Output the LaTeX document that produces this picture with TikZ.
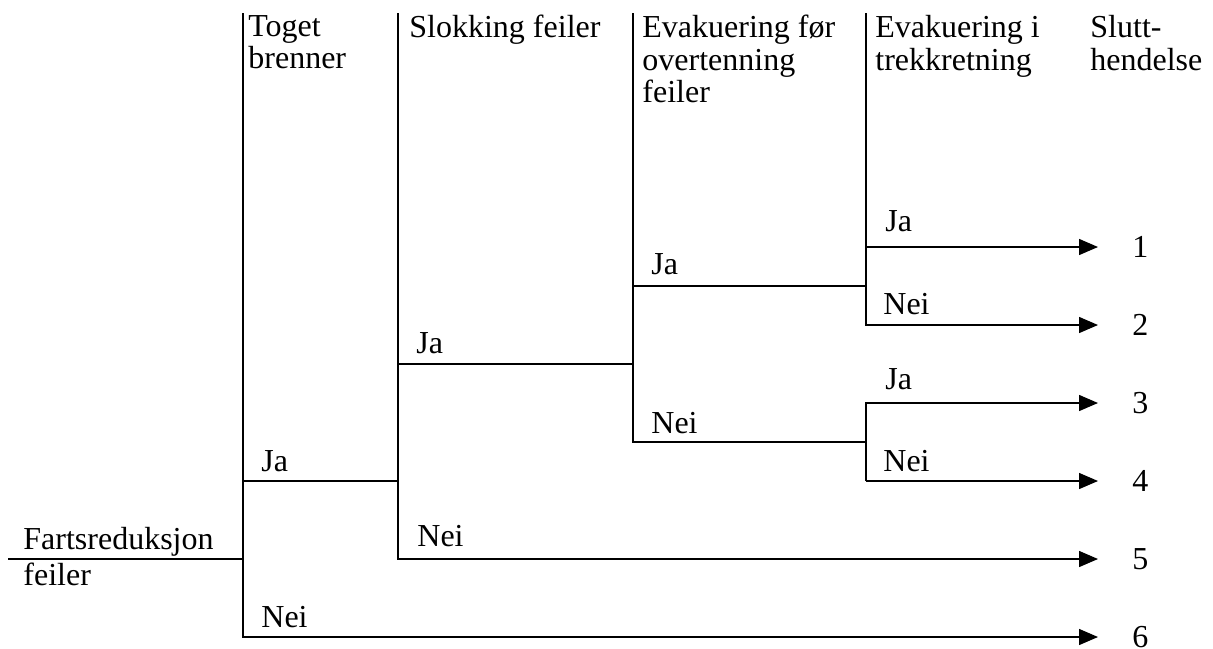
\documentclass[tikz,border=0pt]{standalone}
\usepackage{fontspec}
\setmainfont{Liberation Serif}
\usetikzlibrary{arrows.meta,positioning}
\newcommand{\treefont}{\fontsize{16}{16.25}\selectfont}

\begin{document}
\begin{tikzpicture}[x=0.5pt,y=-0.5pt,
    branch/.style={draw=black,line width=0.7pt},
    outcome/.style={branch,-{Triangle[length=9.5pt,width=8pt]}},
    head/.style={anchor=north west,inner sep=0pt,align=left,font=\treefont},
    answer/.style={inner sep=0pt,font=\treefont},
    endno/.style={anchor=west,inner sep=0pt,font=\treefont}]
  \useasboundingbox (0,0) rectangle (1213,648);
  % columns of the tree
  \coordinate (c1t) at (243,13);
  \coordinate (c1ja) at (243,481);
  \coordinate (c1root) at (243,559);
  \coordinate (c1b) at (243,637);
  \coordinate (c2t) at (398,13);
  \coordinate (c2ja) at (398,364);
  \coordinate (c2in) at (398,481);
  \coordinate (c2b) at (398,559);
  \coordinate (c3t) at (633,13);
  \coordinate (c3ja) at (633,286);
  \coordinate (c3in) at (633,364);
  \coordinate (c3b) at (633,442);
  \coordinate (c4t) at (866,13);
  \coordinate (c4ja) at (866,247);
  \coordinate (c4in) at (866,286);
  \coordinate (c4b) at (866,325);
  \coordinate (c5ja) at (866,403);
  \coordinate (c5in) at (866,442);
  \coordinate (c5b) at (866,481);
  \coordinate (start) at (8,559);
  % ends of the outcomes
  \coordinate (e1) at (1098,247);
  \coordinate (e2) at (1098,325);
  \coordinate (e3) at (1098,403);
  \coordinate (e4) at (1098,481);
  \coordinate (e5) at (1098,559);
  \coordinate (e6) at (1098,637);

  % headers
  \node[head] (hToget) at (248,15) {Toget\\brenner};
  \node[head] (hSlokk) at (409,15) {Slokking feiler};
  \node[head] (hOvert) at (642,15) {Evakuering før\\overtenning\\feiler};
  \node[head] (hTrekk) at (875,15) {Evakuering i\\trekkretning};
  \node[head] (hSlutt) at (1090,15) {Slutt-\\hendelse};
  \node[answer,anchor=base west] (init) at (23,549) {Fartsreduksjon};
  \node[answer,anchor=base west] (initb) at (23,585) {feiler};

  % tree
  \draw[branch] (start) -- (c1root);
  \draw[outcome] (c1t) -- (c1b) -- (e6);
  \draw[branch] (c1ja) -- (c2in);
  \draw[outcome] (c2t) -- (c2b) -- (e5);
  \draw[branch] (c2ja) -- (c3in);
  \draw[branch] (c3t) -- (c3b) -- (c5in);
  \draw[branch] (c3ja) -- (c4in);
  \draw[outcome] (c4t) -- (c4b) -- (e2);
  \draw[outcome] (c4ja) -- (e1);
  \draw[outcome] (c5b) -- (c5ja) -- (e3);
  \draw[outcome] (c5b) -- (e4);

  % Ja / Nei
  \node[answer,above right=4.5pt and 9pt of c1ja] (a1ja) {Ja};
  \node[answer,above right=4.5pt and 9pt of c1b] (a1nei) {Nei};
  \node[answer,above right=5pt and 9pt of c2ja] (a2ja) {Ja};
  \node[answer,above right=6pt and 9.5pt of c2b] (a2nei) {Nei};
  \node[answer,above right=5.5pt and 9pt of c3ja] (a3ja) {Ja};
  \node[answer,above right=4pt and 9pt of c3b] (a3nei) {Nei};
  \node[answer,above right=7.5pt and 9.5pt of c4ja] (a4ja) {Ja};
  \node[answer,above right=5pt and 8.5pt of c4b] (a4nei) {Nei};
  \node[answer,above right=6.5pt and 9.5pt of c5ja] (a5ja) {Ja};
  \node[answer,above right=4.5pt and 8.5pt of c5b] (a5nei) {Nei};

  % outcomes
  \foreach \k in {1,...,6}
    \node[endno,right=17pt of e\k] (n\k) {\k};
\end{tikzpicture}
\end{document}
